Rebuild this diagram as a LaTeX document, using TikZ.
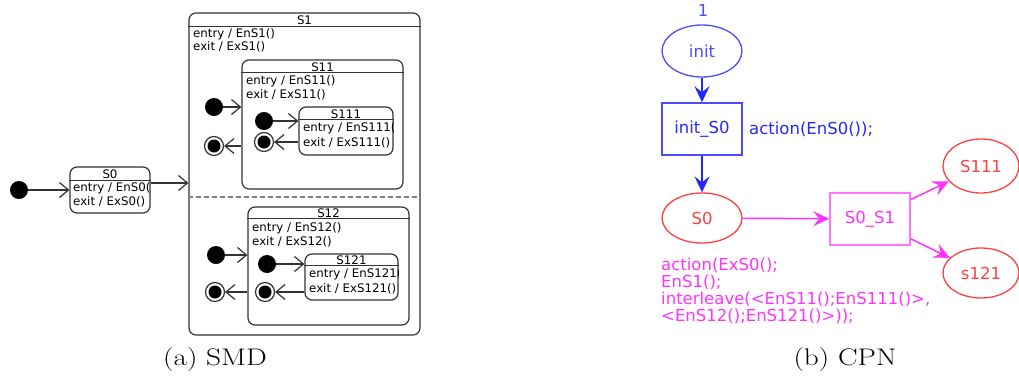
\documentclass[tikz,border=0pt]{standalone}
\usepackage{fontspec}
\newfontfamily\diagfont{DejaVu Sans}
\usetikzlibrary{arrows.meta,positioning,calc,shapes.geometric}
\definecolor{smdline}{rgb}{0.2, 0.2, 0.2}
\definecolor{cpnblue}{rgb}{0.3, 0.3, 1.0}
\definecolor{cpnbluedark}{rgb}{0.15, 0.15, 1.0}
\definecolor{cpnred}{rgb}{1.0, 0.25, 0.25}
\definecolor{cpnmagenta}{rgb}{1.0, 0.2, 1.0}
\definecolor{cpnpink}{rgb}{1.0, 0.45, 1.0}
\tikzset{
  smdstate/.style={draw=smdline, line width=1.2pt, rounded corners=7pt, inner sep=0pt},
  smdtitle/.style={font=\diagfont\fontsize{11.8}{13}\selectfont, inner sep=0pt},
  smdtext/.style={font=\diagfont\fontsize{11.8}{13}\selectfont, anchor=west, inner sep=0pt},
  initdot/.style={circle, fill=black, minimum size=18pt, inner sep=0pt},
  finalring/.style={circle, draw=smdline, line width=1.2pt, minimum size=19pt, inner sep=0pt},
  finaldot/.style={circle, fill=black, minimum size=13pt, inner sep=0pt},
  smdarrow/.style={draw=smdline, line width=1.2pt, -{Straight Barb[length=9pt, width=15pt]}},
  cpntext/.style={font=\diagfont\fontsize{16.5}{17}\selectfont, inner sep=0pt},
  cpnplace/.style={ellipse, draw=cpnred, line width=1.3pt, text=cpnred, cpntext},
  cpntrans/.style={rectangle, line width=1.5pt, cpntext},
  cpnarrow/.style={line width=1.5pt, -{Stealth[length=16pt, width=15pt, inset=6pt]}},
  caption/.style={font=\fontsize{24}{28}\selectfont, inner sep=0pt}
}
\begin{document}
\begin{tikzpicture}[x=1pt, y=-1pt]
  \useasboundingbox (0,0) rectangle (1019,381);

  % SMD: states
  \node[smdstate, minimum width=80pt, minimum height=46pt] (S0) at (110,190) {};
  \node[smdstate, minimum width=231pt, minimum height=322pt] (S1) at (304.5,174) {};
  \node[smdstate, minimum width=161pt, minimum height=129pt] (S11) at (322.5,124.5) {};
  \node[smdstate, minimum width=94pt, minimum height=48pt] (S111) at (346,131) {};
  \node[smdstate, minimum width=161pt, minimum height=118pt] (S12) at (328.5,266) {};
  \node[smdstate, minimum width=93pt, minimum height=46pt] (S121) at (351.5,277) {};

  % SMD: titles and separators
  \node[smdtitle] (S0title) at (110,174) {S0};
  \draw[smdline, line width=1.2pt] ([yshift=-14pt]S0.north west) -- ([yshift=-14pt]S0.north east);
  \node[smdtitle] (S1title) at (304.5,20) {S1};
  \draw[smdline, line width=1.2pt] ([yshift=-14pt]S1.north west) -- ([yshift=-14pt]S1.north east);
  \node[smdtitle] (S11title) at (322.5,67) {S11};
  \draw[smdline, line width=1.2pt] ([yshift=-13pt]S11.north west) -- ([yshift=-13pt]S11.north east);
  \node[smdtitle] (S111title) at (346,114) {S111};
  \draw[smdline, line width=1.2pt] ([yshift=-13pt]S111.north west) -- ([yshift=-13pt]S111.north east);
  \node[smdtitle] (S12title) at (328.5,213) {S12};
  \draw[smdline, line width=1.2pt] ([yshift=-12pt]S12.north west) -- ([yshift=-12pt]S12.north east);
  \node[smdtitle] (S121title) at (351.5,260) {S121};
  \draw[smdline, line width=1.2pt] ([yshift=-12pt]S121.north west) -- ([yshift=-12pt]S121.north east);

  % SMD: region divider
  \coordinate (divider) at (300,197);
  \draw[gray, line width=1.2pt, dash pattern=on 5pt off 3pt] (divider -| S1.west) -- (divider -| S1.east);

  % SMD: actions
  \begin{scope}
    \clip (S0.south west) rectangle (S0.north east);
    \node[smdtext] (S0entry) at (73,188) {entry / EnS0()};
    \node[smdtext] (S0exit) at (73,202) {exit / ExS0()};
  \end{scope}
  \node[smdtext] (S1entry) at (193,34) {entry / EnS1()};
  \node[smdtext] (S1exit) at (193,47) {exit / ExS1()};
  \node[smdtext] (S11entry) at (246,81) {entry / EnS11()};
  \node[smdtext] (S11exit) at (246,95) {exit / ExS11()};
  \begin{scope}
    \clip (S111.south west) rectangle (S111.north east);
    \node[smdtext] (S111entry) at (303,128) {entry / EnS111()};
    \node[smdtext] (S111exit) at (303,143) {exit / ExS111()};
  \end{scope}
  \node[smdtext] (S12entry) at (252,228) {entry / EnS12()};
  \node[smdtext] (S12exit) at (252,242) {exit / ExS12()};
  \begin{scope}
    \clip (S121.south west) rectangle (S121.north east);
    \node[smdtext] (S121entry) at (309,274) {entry / EnS121()};
    \node[smdtext] (S121exit) at (309,289) {exit / ExS121()};
  \end{scope}

  % SMD: pseudo states
  \node[initdot] (init0) at (19,190) {};
  \node[initdot] (init11) at (214,107) {};
  \node[finalring] (final11) at (214,146) {};
  \node[finaldot] at (final11) {};
  \node[initdot] (init111) at (264,121) {};
  \node[finalring] (final111) at (264,142) {};
  \node[finaldot] at (final111) {};
  \node[initdot] (init12) at (216,255) {};
  \node[finalring] (final12) at (215,292) {};
  \node[finaldot] at (final12) {};
  \node[initdot] (init121) at (267,264) {};
  \node[finalring] (final121) at (265,292) {};
  \node[finaldot] at (final121) {};

  % SMD: transitions
  \draw[smdarrow] (init0) -- (init0 -| S0.west);
  \draw[smdarrow] ([yshift=7pt]S0.east) -- ([yshift=7pt]S0.east -| S1.west);
  \draw[smdarrow] (init11) -- (init11 -| S11.west);
  \draw[smdarrow] (final11 -| S11.west) -- (final11);
  \draw[smdarrow] (init111) -- (init111 -| S111.west);
  \draw[smdarrow] (final111 -| S111.west) -- (final111);
  \draw[smdarrow] (init12) -- (init12 -| S12.west);
  \draw[smdarrow] (final12 -| S12.west) -- (final12);
  \draw[smdarrow] (init121) -- (init121 -| S121.west);
  \draw[smdarrow] (final121 -| S121.west) -- (final121);

  % CPN: places and transitions
  \node[cpnplace, draw=cpnblue, text=cpnblue, minimum width=80pt, minimum height=52pt] (init) at (702,51) {init};
  \node[cpntext, text=cpnblue] (token) at (703,10) {1};
  \node[cpntrans, draw=cpnblue, text=cpnbluedark, minimum width=80pt, minimum height=52pt] (initS0) at (702,129) {init\_S0};
  \node[cpntext, text=cpnbluedark, anchor=west] (initS0act) at (749,129) {action(EnS0());};
  \node[cpnplace, minimum width=80pt, minimum height=50pt] (S0p) at (702,218) {S0};
  \node[cpntrans, draw=cpnpink, text=cpnmagenta, minimum width=80pt, minimum height=52pt] (S0S1) at (870,219) {S0\_S1};
  \node[cpnplace, minimum width=76pt, minimum height=54pt] (S111p) at (981,166) {S111};
  \node[cpnplace, minimum width=76pt, minimum height=50pt] (s121p) at (981,273) {s121};
  \node[cpntext, text=cpnmagenta, anchor=north west, align=left] (S0S1act) at (661,258)
    {action(ExS0();\\EnS1();\\interleave(<EnS11();EnS111()>,\\<EnS12();EnS121()>));};

  % CPN: arcs
  \draw[cpnarrow, cpnbluedark] (init) -- (initS0);
  \draw[cpnarrow, cpnbluedark] (initS0) -- (S0p);
  \draw[cpnarrow, cpnmagenta] (S0p) -- (S0S1);
  \draw[cpnarrow, cpnmagenta] (S0S1) -- (S111p);
  \draw[cpnarrow, cpnmagenta] (S0S1) -- (s121p);

  % Captions
  \node[caption] (capa) at (215,360) {\scalebox{1.22}[1]{(a) SMD}};
  \node[caption] (capb) at (845,360) {\scalebox{1.22}[1]{(b) CPN}};
\end{tikzpicture}
\end{document}
